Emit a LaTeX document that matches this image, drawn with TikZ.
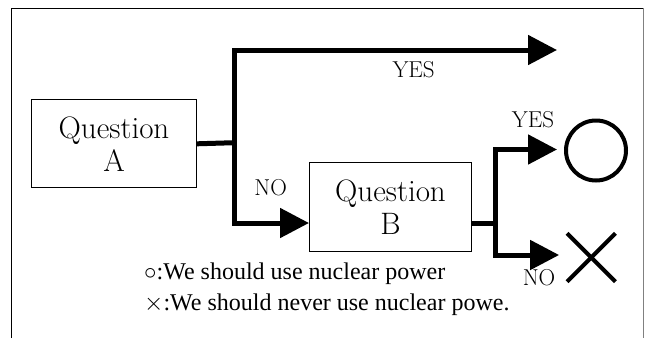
\documentclass[tikz,border=0pt]{standalone}
\usepackage{fontspec}
\usetikzlibrary{arrows.meta}
\newfontfamily\legendfont{Liberation Serif}
\tikzset{qbox/.style = {draw, line width=1pt, inner sep=0, align=center,
                        font=\fontsize{31}{33}\selectfont}}
\tikzset{flow/.style = {line width=5pt}}
\tikzset{bigtip/.style = {-{Triangle[length=29pt, width=29pt]}}}
\tikzset{answer/.style = {inner sep=0, font=\fontsize{23}{26}\selectfont}}
\tikzset{legend/.style = {inner sep=0, anchor=base west,
                          font=\legendfont\fontsize{24}{28}\selectfont}}

\begin{document}
\begin{tikzpicture}[x=1pt, y=-1pt]
    \useasboundingbox (0, 0) rectangle (645, 338);
    \draw [line width=1pt] (11.5, 338) |- (643.5, 8);
    \draw [line width=1pt, gray] (643.5, 8) -- (643.5, 338);

    \node (boxA) [qbox, minimum width=165pt, minimum height=88pt] at (114, 143.8) {Question\\A};
    \node (boxB) [qbox, minimum width=162pt, minimum height=89pt] at (390.5, 207) {Question\\B};
    \node (yes) [circle, draw, line width=4pt, minimum size=60pt, inner sep=0] at (596, 150.5) {};
    \node (no) [minimum size=48pt, inner sep=0] at (591.3, 257.5) {};
    \draw [line width=4pt] (no.north west) -- (no.south east);
    \draw [line width=4pt] (no.south west) -- (no.north east);

    \coordinate (splitA) at (234, 142.7);
    \coordinate (topend) at (557, 50);
    \coordinate (splitB) at (495, 223);

    \draw [flow] (boxA.east) -- (splitA);
    \draw [flow, bigtip] (splitA) |- (topend);
    \draw [flow, bigtip] (splitA) |- ([yshift=-16pt]boxB.west);
    \draw [flow] ([yshift=-16pt]boxB.east) -- (splitB);
    \draw [flow, bigtip, shorten >=7pt] (splitB) |- ([yshift=1pt]yes.west);
    \draw [flow, bigtip, shorten >=8pt] (splitB) |- ([yshift=2.5pt]no.west);

    \node (yesTop) [answer] at (413.6, 69.5) {YES};
    \node (yesB) [answer] at (533, 120) {YES};
    \node (noA) [answer] at (270.7, 187.5) {NO};
    \node (noB) [answer] at (539, 277.5) {NO};

    \node (legYes) [legend] at (144, 279.3) {{$\circ$}:We should use nuclear power};
    \node (legNo) [legend] at (144, 310.7) {{$\times$}:We should never use nuclear powe.};
  \end{tikzpicture}
\end{document}
